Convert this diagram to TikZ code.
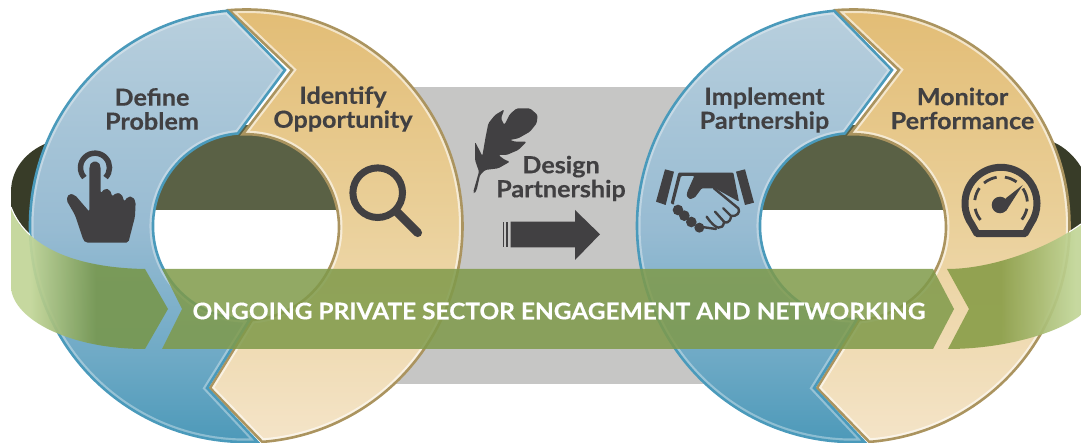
\documentclass[tikz,border=0pt]{standalone}
\usepackage{fontspec}
\setmainfont{Lato}[BoldFeatures={FakeStretch=1.07,FakeBold=0.35}]
\definecolor{ink}{HTML}{414042}
\definecolor{blueline}{HTML}{4A9ABB}
\definecolor{tanline}{HTML}{AB945F}
\definecolor{bandgreen}{HTML}{7F9A4A}
\definecolor{tailleft}{HTML}{789851}
\definecolor{tailright}{HTML}{8C9F4B}
\definecolor{bandlight}{HTML}{C2D698}
\definecolor{holedark}{HTML}{5A6145}
\definecolor{backdark}{HTML}{383C28}
\definecolor{slab}{HTML}{C6C6C5}
\definecolor{bluea}{HTML}{4A98B8}
\definecolor{blueb}{HTML}{6DA9C5}
\definecolor{bluec}{HTML}{97BBD2}
\definecolor{blued}{HTML}{B8CFDD}
\definecolor{tana}{HTML}{F4E4C8}
\definecolor{tanb}{HTML}{EAD09A}
\definecolor{tanc}{HTML}{E2BC74}
\pgfdeclareverticalshading{bluegrad}{100bp}{color(0bp)=(bluea); color(25bp)=(bluea); color(35bp)=(blueb); color(50bp)=(bluec); color(75bp)=(blued); color(100bp)=(blued)}
\pgfdeclareverticalshading{tangrad}{100bp}{color(0bp)=(tana); color(25bp)=(tana); color(50bp)=(tanb); color(75bp)=(tanc); color(100bp)=(tanc)}
\pgfdeclarehorizontalshading{lefttail}{100bp}{color(0bp)=(bandlight); color(31bp)=(bandlight); color(52bp)=(tailleft); color(100bp)=(tailleft)}
\pgfdeclarehorizontalshading{righttail}{100bp}{color(0bp)=(tailright); color(45bp)=(tailright); color(73bp)=(bandlight); color(100bp)=(bandlight)}
\newcommand{\bluepath}{([shift={(246,226)}]265:216) arc[start angle=265,end angle=87,radius=216] -- (207,388) -- (250,319) arc[start angle=87.5,end angle=265,radius=93] -- (285,70) -- cycle}
\newcommand{\tanpath}{([shift={(246,226)}]265.5:216.5) arc[start angle=265.5,end angle=445.7,radius=216.5] -- (210,388) -- (252,320) arc[start angle=86.3,end angle=-92,radius=93] -- (292,70) -- cycle}
\newcommand{\lefttop}{(11,207) .. controls (28,252) and (85,268) .. (145,269)}
\newcommand{\righttop}{(947,269) .. controls (990,269) and (1045,250) .. (1081,224)}
\newcommand{\ringpair}{%
  \fill[holedark] (150,125) rectangle (345,210);
  \shade[shading=tangrad] \tanpath;
  \begin{scope}\clip \tanpath; \draw[color=white,opacity=.6,line width=7pt] \tanpath; \end{scope}
  \draw[tanline,line width=2.6pt,line join=miter] \tanpath;
  \shade[shading=bluegrad] \bluepath;
  \begin{scope}\clip \bluepath; \draw[color=white,opacity=.35,line width=7pt] \bluepath; \end{scope}
  \draw[blueline,line width=2.6pt,line join=miter] \bluepath;
}
\begin{document}
\begin{tikzpicture}[x=1pt,y=-1pt,
  label/.style={font=\fontsize{23.5}{24}\selectfont\bfseries,text=ink,align=center,inner sep=0pt},
  icon/.style={fill=ink,draw=none}]
\useasboundingbox (0,0) rectangle (1081,443);
\fill[white] (0,0) rectangle (1081,443);
% backing slab
\fill[slab] (385,87) rectangle (720,384);
% back of the band
\fill[backdark] (47,143) .. controls (25,152) and (11,170) .. (11,192) -- (11,207) -- (20,226) -- (34,238) -- (60,143) -- cycle;
\fill[backdark] (1053,142) .. controls (1065,147) and (1075,157) .. (1081,167) -- (1081,224) -- (1063,238) -- (1050,240) -- cycle;
% rings
\ringpair
\begin{scope}[shift={(607,0)}]\ringpair\end{scope}
% band
\shade[shading=lefttail,opacity=.93] \lefttop -- (168,309) -- (145,349) .. controls (70,349) and (14,320) .. (11,288) -- cycle;
\fill[bandgreen,opacity=.85] (162,269) -- (933,269) -- (954,309) -- (933,349) -- (162,349) -- (182,309) -- cycle;
\shade[shading=righttail,opacity=.93] \righttop -- (1081,315) .. controls (1055,335) and (1000,349) .. (948,349) -- (969,309) -- cycle;
\begin{scope}\clip (0,190) rectangle (30,260); \draw[white,line width=1.1pt] \lefttop; \end{scope}
\begin{scope}\clip (1069,190) rectangle (1081,260); \draw[white,line width=1.1pt] \righttop; \end{scope}
\node[font=\fontsize{22.85}{25}\selectfont\bfseries,text=white,inner sep=0pt] (bandtext) at (559,311) {ONGOING PRIVATE SECTOR ENGAGEMENT AND NETWORKING};
% labels
\node[label] (define) at (152,109) {Define\\Problem};
\node[label] (identify) at (343,109) {Identify\\Opportunity};
\node[label] (design) at (561,178.5) {Design\\Partnership};
\node[label] (implement) at (764.5,110) {Implement\\Partnership};
\node[label] (monitor) at (962.5,108.5) {Monitor\\Performance};
% hand icon
\begin{scope}[shift={(55,145)},scale=1/3]
  \fill[icon,rounded corners=2pt] (103,65) -- (103,200) -- (60,150) -- (42,146) -- (34,165) -- (60,210) -- (85,285) -- (92,293) -- (220,293) -- (240,215) -- (242,170) -- (233,155) -- (218,155) -- (208,170) -- (200,147) -- (183,143) -- (172,155) -- (165,135) -- (150,130) -- (137,145) -- (137,65) -- (130,50) -- (110,50) -- cycle;
  \draw[ink,line width=5.5pt] ([shift={(120,68)}]137:43.5) arc[start angle=137,end angle=403,radius=43.5];
\end{scope}
% magnifier
\draw[ink,line width=7pt] (377.7,192.7) circle[radius=24.8];
\draw[ink,line width=8.7pt,line cap=round] (396.7,211.7) -- (417.7,232.7);
% feather
\begin{scope}[shift={(465,100)},scale=1/3]
  \fill[icon,rounded corners=1.5pt] (25,275) -- (42,215) -- (30,180) -- (30,125) -- (52,168) -- (62,110) -- (70,70) -- (90,45) -- (118,28) -- (108,55) -- (118,75) -- (135,42) -- (155,25) -- (195,25) -- (218,45) -- (215,70) -- (195,95) -- (160,115) -- (135,120) -- (150,125) -- (185,125) -- (160,150) -- (125,165) -- (100,165) -- (120,180) -- (135,185) -- (100,205) -- (60,210) -- (45,225) -- (35,270) -- (27,282) -- cycle;
\end{scope}
% arrow
\fill[icon] (502.7,221.7) rectangle (504,247.3);
\fill[icon] (505.7,221.7) rectangle (508,247.3);
\fill[icon] (510.7,221.7) -- (575,221.7) -- (575,210) -- (600,234.3) -- (575,260) -- (575,247.3) -- (510.7,247.3) -- cycle;
% handshake
\begin{scope}[shift={(650,160)},scale=1/3]
  \fill[icon] (18,125) -- (45,28) -- (72,35) -- (47,135) -- cycle;
  \fill[icon] (258,35) -- (285,28) -- (312,128) -- (285,135) -- cycle;
  \fill[icon,rounded corners=1pt] (85,38) -- (250,38) -- (267,125) -- (195,85) -- (155,85) -- (135,112) -- (120,118) -- (110,108) -- (112,95) -- (133,48) -- (93,48) -- (72,128) -- (72,135) -- (62,130) -- cycle;
  \draw[ink,line width=2.4pt,line cap=round,line join=round] (192,85) -- (265,145) .. controls (272,158) and (260,170) .. (243,168) -- (220,145);
  \draw[ink,line width=2.4pt,line cap=round,line join=round] (243,170) .. controls (240,190) and (225,190) .. (222,185) -- (195,155);
  \draw[ink,line width=2.4pt,line cap=round,line join=round] (222,187) .. controls (218,210) and (198,212) .. (170,170);
  \draw[ink,line width=2.4pt,line cap=round] (198,207) -- (150,200);
  \fill[icon] (84,150) circle[radius=16];
  \fill[icon] (103,167) circle[radius=16];
  \fill[icon] (124,186) circle[radius=16];
  \fill[icon] (148,203) circle[radius=15];
\end{scope}
% gauge
\draw[ink,line width=7pt,line join=round] (977,233.7) -- ([shift={(1001,203.3)}]145:36) arc[start angle=145,end angle=395,radius=36] -- (1025,233.7) -- cycle;
\foreach \a/\b in {278.5/306,230/260.5,187/215,141/168,326/356,371.7/398}{
  \draw[ink,line width=2.8pt] ([shift={(1001,203.3)}]\a:26.4) arc[start angle=\a,end angle=\b,radius=26.4];
}
\fill[ink] (1000,205) circle[radius=8.3];
\fill[ink] (1022.7,185) -- (1005.5,198.5) -- (1006,211) -- cycle;
\end{tikzpicture}
\end{document}
